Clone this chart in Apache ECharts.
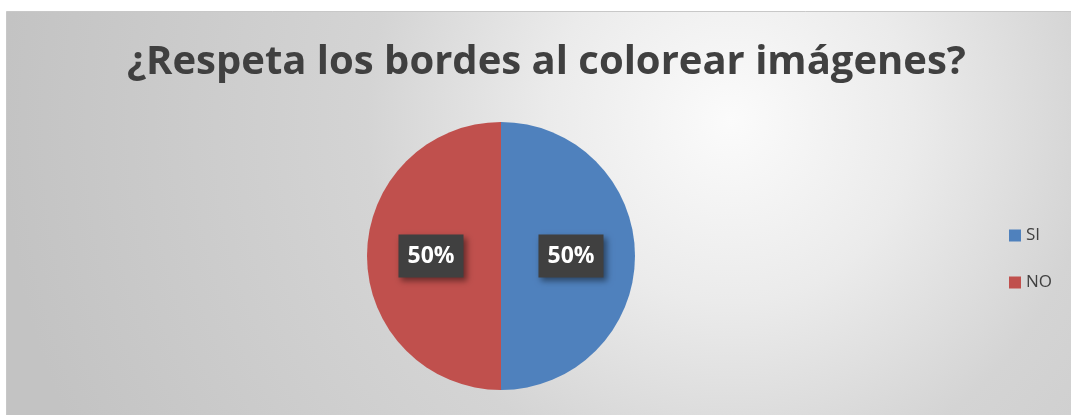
<!DOCTYPE html>
<html><head><meta charset="utf-8">
<script src="https://cdn.jsdelivr.net/npm/echarts@6/dist/echarts.min.js"></script>
<style>html,body{margin:0;padding:0;background:#fff}#c{width:1071px;height:415px}</style>
</head><body><div id="c"></div>
<script>
const titleText = '¿Respeta los bordes al colorear imágenes?';
const categories = ['SI', 'NO'];
const values = [50, 50];
const colors = ['#4F81BD', '#C0504D'];

const chart = echarts.init(document.getElementById('c'));
chart.setOption({
  animation: false,
  graphic: [{
    type: 'rect', left: 6, top: 11, z: -10,
    shape: { width: 1065, height: 404 },
    style: {
      fill: new echarts.graphic.RadialGradient(0.68, 0.27, 1.8, [
        { offset: 0, color: '#fbfbfb' },
        { offset: 0.25, color: '#ebebeb' },
        { offset: 0.5, color: '#d4d4d4' },
        { offset: 1, color: '#c3c3c3' }
      ]),
      stroke: '#c8c8c8', lineWidth: 1
    }
  }],
  title: {
    text: titleText, left: 122, top: 38,
    textStyle: { fontFamily: 'Open Sans', fontWeight: 'bold', fontSize: 40, color: '#404040' }
  },
  legend: {
    orient: 'vertical', left: 1004, top: 222,
    itemWidth: 12, itemHeight: 12, itemGap: 30,
    icon: 'rect',
    textStyle: { fontFamily: 'Open Sans', fontSize: 17, color: '#404040' },
    data: categories
  },
  series: [{
    type: 'pie', center: [501, 256], radius: 134,
    startAngle: 90, clockwise: true,
    data: categories.map((c, i) => ({ name: c, value: values[i], itemStyle: { color: colors[i] } })),
    label: {
      show: true, position: 'inside',
      formatter: p => Math.round(p.percent) + '%',
      fontFamily: 'Open Sans', fontWeight: 'bold', fontSize: 23, color: '#ffffff',
      backgroundColor: '#404040', padding: [11, 9, 9, 9],
      shadowColor: 'rgba(0,0,0,0.45)', shadowBlur: 6, shadowOffsetX: 3, shadowOffsetY: 3
    },
    labelLine: { show: false },
    emphasis: { disabled: true }
  }]
});
</script></body></html>
